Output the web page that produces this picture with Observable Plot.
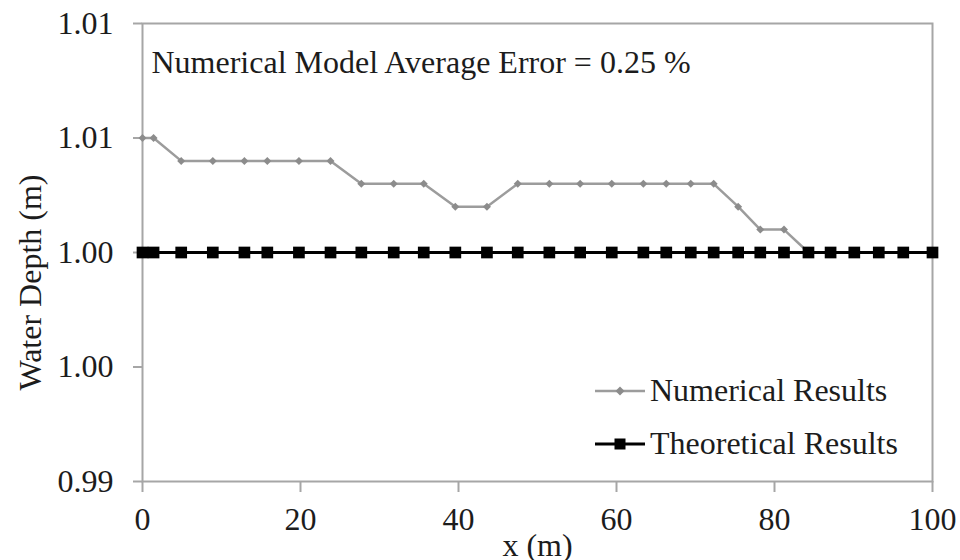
<!DOCTYPE html>
<html>
<head>
<meta charset="utf-8">
<script src="https://cdn.jsdelivr.net/npm/d3@7"></script>
<script src="https://cdn.jsdelivr.net/npm/@observablehq/plot@0.6"></script>
<style>
  body { margin: 0; background: #fff; }
  #wrap { position: relative; width: 960px; height: 560px; font-family: "Liberation Serif", "Times New Roman", serif; color: #1c1c1c; }
  .legend { position: absolute; left: 594px; top: 364px; font-size: 32px; line-height: 53px; }
  .legend .row { display: flex; align-items: center; white-space: nowrap; }
  .legend svg { margin-right: 4px; }
</style>
</head>
<body>
<div id="wrap"></div>
<script>
// Station positions along the channel (m)
const xPositions = [0, 1.4, 4.9, 8.9, 12.9, 15.8, 19.8, 23.8, 27.7, 31.8, 35.6, 39.6, 43.6, 47.5, 51.5,
                    55.4, 59.4, 63.4, 66.3, 69.4, 72.3, 75.4, 78.2, 81.2, 84.3, 87.1, 90.1, 93.2, 96.3, 100];
// Water depth from the numerical model (m)
const numericalDepth = [1.005, 1.005, 1.004, 1.004, 1.004, 1.004, 1.004, 1.004, 1.003, 1.003, 1.003, 1.002, 1.002, 1.003, 1.003,
                        1.003, 1.003, 1.003, 1.003, 1.003, 1.003, 1.002, 1.001, 1.001, 1.000, 1.000, 1.000, 1.000, 1.000, 1.000];
// Theoretical water depth (m)
const theoreticalDepth = [1.000, 1.000, 1.000, 1.000, 1.000, 1.000, 1.000, 1.000, 1.000, 1.000, 1.000, 1.000, 1.000, 1.000, 1.000,
                          1.000, 1.000, 1.000, 1.000, 1.000, 1.000, 1.000, 1.000, 1.000, 1.000, 1.000, 1.000, 1.000, 1.000, 1.000];

const xTicks = [0, 20, 40, 60, 80, 100];
const yTicks = [0.99, 0.995, 1.00, 1.005, 1.01];
const yTickLabels = ["0.99", "1.00", "1.00", "1.01", "1.01"];

const seriesNames = ["Numerical Results", "Theoretical Results"];
const annotation = "Numerical Model Average Error = 0.25 %";
const xLabel = "x (m)";
const yLabel = "Water Depth (m)";

const numerical = xPositions.map((x, i) => ({x, y: numericalDepth[i]}));
const theoretical = xPositions.map((x, i) => ({x, y: theoreticalDepth[i]}));

const axisColor = "#a6a6a6";
const numColor = "#9c9c9c";
const textColor = "#1c1c1c";

const chart = Plot.plot({
  width: 960,
  height: 560,
  marginLeft: 142,
  marginRight: 28,
  marginTop: 23,
  marginBottom: 79,
  style: {fontFamily: "Liberation Serif, Times New Roman, serif", fontSize: "32px", color: textColor, background: "transparent"},
  x: {domain: [0, 100]},
  y: {domain: [0.99, 1.01]},
  marks: [
    Plot.frame({stroke: axisColor, strokeWidth: 2}),
    Plot.axisY({ticks: yTicks, tickFormat: (d, i) => yTickLabels[i], tickSize: 9, tickPadding: 20,
                stroke: axisColor, strokeWidth: 2, strokeOpacity: 1, label: null}),
    Plot.axisX({ticks: xTicks, tickSize: 11, tickPadding: 15,
                stroke: axisColor, strokeWidth: 2, strokeOpacity: 1, label: null}),
    Plot.line(numerical, {x: "x", y: "y", stroke: numColor, strokeWidth: 2.5}),
    Plot.dot(numerical, {x: "x", y: "y", symbol: "diamond2", r: 3.6, fill: "#8c8c8c", stroke: "none"}),
    Plot.line(theoretical, {x: "x", y: "y", stroke: "#000", strokeWidth: 3}),
    Plot.dot(theoretical, {x: "x", y: "y", symbol: "square", r: 6.6, fill: "#000", stroke: "none"}),
    Plot.text([annotation], {frameAnchor: "top-left", textAnchor: "start", lineAnchor: "middle", dx: 9, dy: 39, fontSize: 32, fill: textColor}),
    Plot.text([yLabel], {frameAnchor: "left", textAnchor: "middle", lineAnchor: "middle", rotate: -90, dx: -112, dy: 30, fontSize: 32, fill: textColor}),
    Plot.text([xLabel], {frameAnchor: "bottom", textAnchor: "middle", lineAnchor: "middle", dy: 64, fontSize: 32, fill: textColor})
  ]
});

const wrap = document.getElementById("wrap");
wrap.appendChild(chart);

// Legend placed inside the lower-right of the plot area
const legend = document.createElement("div");
legend.className = "legend";
const swatch = (color, width, symbol) => {
  const s = d3.create("svg").attr("width", 52).attr("height", 20);
  s.append("line").attr("x1", 1).attr("x2", 51).attr("y1", 10).attr("y2", 10)
    .attr("stroke", color).attr("stroke-width", width);
  if (symbol === "diamond") {
    s.append("path").attr("d", "M26,5.5L30.5,10L26,14.5L21.5,10Z").attr("fill", "#8c8c8c");
  } else {
    s.append("rect").attr("x", 20.5).attr("y", 4.5).attr("width", 11).attr("height", 11).attr("fill", "#000");
  }
  return s.node();
};
[[seriesNames[0], numColor, 2.5, "diamond"], [seriesNames[1], "#000", 3, "square"]].forEach(([name, color, w, sym]) => {
  const row = document.createElement("div");
  row.className = "row";
  row.appendChild(swatch(color, w, sym));
  const t = document.createElement("span");
  t.textContent = name;
  row.appendChild(t);
  legend.appendChild(row);
});
wrap.appendChild(legend);
</script>
</body>
</html>
